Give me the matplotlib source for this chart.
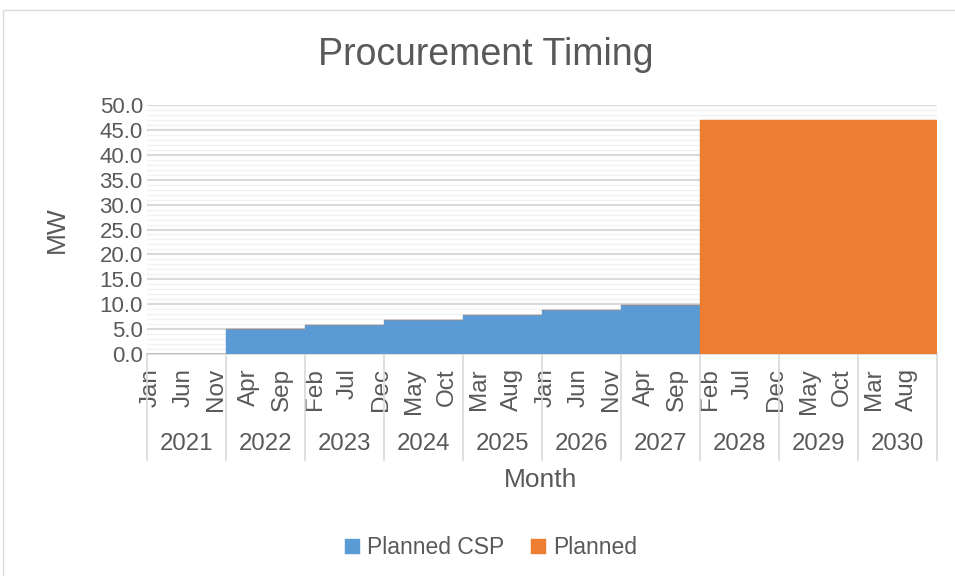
import matplotlib.pyplot as plt
import matplotlib.transforms as mtransforms
from matplotlib.patches import Rectangle
import numpy as np

plt.rcParams['font.family'] = ['Liberation Sans', 'DejaVu Sans']

########################  DATA  ########################
years = [2021, 2022, 2023, 2024, 2025, 2026, 2027, 2028, 2029, 2030]
month_names = ['Jan', 'Feb', 'Mar', 'Apr', 'May', 'Jun',
               'Jul', 'Aug', 'Sep', 'Oct', 'Nov', 'Dec']
csp_by_year = [0.0, 5.0, 5.8, 6.8, 7.8, 8.8, 9.8, 0.0, 0.0, 0.0]      # Planned CSP, MW
planned_by_year = [0.0, 0.0, 0.0, 0.0, 0.0, 0.0, 0.0, 46.9, 46.9, 46.9]  # Planned, MW
label_every = 5
########################################################

txt = '#595959'
grid_major = '#d9d9d9'
grid_minor = '#f2f2f2'
c_csp = '#5B9BD5'
c_plan = '#ED7D31'

# monthly series (value is constant within each year)
csp = np.repeat(csp_by_year, 12)
planned = np.repeat(planned_by_year, 12)
n = len(csp)
x = np.arange(n)
month_lbl = [month_names[i % 12] for i in range(n)]

fig = plt.figure(figsize=(9.55, 5.76), dpi=100)
W, H = 955, 576

# chart area border
fig.patches.append(Rectangle((3 / W, -0.1), 1.2, 1.1 - 10 / H, transform=fig.transFigure,
                             fill=False, ec=grid_major, lw=1.0))

L, R, T, B = 147, 937, 105, 354
ax = fig.add_axes([L / W, (H - B) / H, (R - L) / W, (B - T) / H])

ax.bar(x, csp, width=1.0, color=c_csp, edgecolor=c_csp, lw=0.3, label='Planned CSP', zorder=3)
ax.bar(x, planned, width=1.0, bottom=csp, color=c_plan, edgecolor=c_plan, lw=0.3,
       label='Planned', zorder=3)

ax.set_xlim(-0.5, n - 0.5)
ax.set_ylim(0, 50)
ax.set_yticks(np.arange(0, 50.1, 5))
ax.set_yticks(np.arange(0, 50.1, 1), minor=True)
ax.set_yticklabels([f'{v:.1f}' for v in np.arange(0, 50.1, 5)])
ax.grid(axis='y', which='minor', color=grid_minor, lw=1.0, zorder=0)
ax.grid(axis='y', which='major', color=grid_major, lw=1.5, zorder=1)
ax.set_axisbelow(True)

for s in ['top', 'right', 'left']:
    ax.spines[s].set_visible(False)
ax.spines['bottom'].set_color(grid_major)
ax.spines['bottom'].set_linewidth(1.2)

ax.tick_params(axis='y', which='both', length=0, labelsize=16, labelcolor=txt, pad=3)
ax.tick_params(axis='x', which='both', length=0, labelsize=17.5, labelcolor=txt, pad=10)
ticks = x[::label_every]
ax.set_xticks(ticks)
ax.set_xticklabels([month_lbl[i] for i in ticks], rotation=90, va='top', ha='center')

# year level of the category axis
trans = mtransforms.blended_transform_factory(ax.transData, ax.transAxes)
sep_bottom = -(460 - B) / (B - T)
for i in range(len(years) + 1):
    xs = -0.5 + 12 * i
    ax.plot([xs, xs], [0, sep_bottom], transform=trans, color=grid_major, lw=1.2, clip_on=False)
for i, yr in enumerate(years):
    ax.text(12 * i + 5.5, -(444 - B) / (B - T), str(yr), transform=trans,
            ha='center', va='center', fontsize=17.3, color=txt)

fig.text(0.509, (H - 55) / H, 'Procurement Timing', ha='center', va='center', fontsize=27, color=txt)
fig.text(541 / W, (H - 480) / H, 'Month', ha='center', va='center', fontsize=19, color=txt)
fig.text(57 / W, (H - 230) / H, 'MW', ha='center', va='center', rotation=90, fontsize=19, color=txt)

leg = fig.legend(loc='center', bbox_to_anchor=(491 / W, (H - 548) / H), ncol=2, frameon=False,
                 fontsize=16.5, handlelength=0.65, handleheight=0.65, handletextpad=0.3,
                 columnspacing=1.2)
for t in leg.get_texts():
    t.set_color(txt)

fig.savefig('out.png', dpi=100)
